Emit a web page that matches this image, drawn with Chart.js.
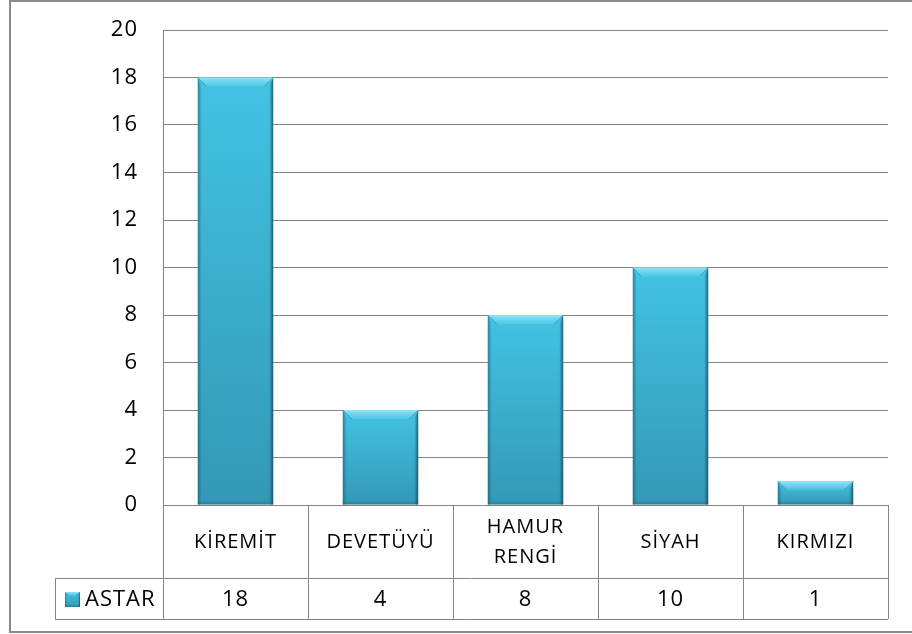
<!DOCTYPE html>
<html><head><meta charset="utf-8">
<script src="https://cdn.jsdelivr.net/npm/chart.js@4"></script>
<style>html,body{margin:0;padding:0;background:#fff;overflow:hidden}canvas{display:block}</style>
</head><body>
<canvas id="c" width="912" height="634"></canvas>
<script>
// ---- data ----
const categories = [['KİREMİT'], ['DEVETÜYÜ'], ['HAMUR', 'RENGİ'], ['SİYAH'], ['KIRMIZI']];
const seriesName = 'ASTAR';
const astarValues = [18, 4, 8, 10, 1];
const yMin = 0, yMax = 20, yStep = 2;

// ---- styling ----
const FONT = "'Open Sans', 'Noto Sans', sans-serif";
const LINE = '#858585';
const CAT_ROW_H = 73, DATA_ROW_H = 41, KEY_LEFT = 55;

function barGradient(ctx, top, bottom) {
  const g = ctx.createLinearGradient(0, top, 0, bottom);
  g.addColorStop(0, '#43c3e4');
  g.addColorStop(1, '#3398b5');
  return g;
}

function drawBevel(ctx, l, t, r, b) {
  const h = b - t, w = r - l;
  const bv = Math.min(9, h / 2.5, w / 4);
  const side = Math.min(4, w / 8);
  ctx.save();
  let g = ctx.createLinearGradient(l, 0, l + side, 0);
  g.addColorStop(0, 'rgba(20,80,100,0.55)');
  g.addColorStop(1, 'rgba(20,80,100,0)');
  ctx.fillStyle = g;
  ctx.beginPath(); ctx.moveTo(l, t); ctx.lineTo(l + side, t + bv); ctx.lineTo(l + side, b); ctx.lineTo(l, b); ctx.closePath(); ctx.fill();
  g = ctx.createLinearGradient(r, 0, r - side, 0);
  g.addColorStop(0, 'rgba(15,60,80,0.7)');
  g.addColorStop(1, 'rgba(15,60,80,0)');
  ctx.fillStyle = g;
  ctx.beginPath(); ctx.moveTo(r, t); ctx.lineTo(r - side, t + bv); ctx.lineTo(r - side, b); ctx.lineTo(r, b); ctx.closePath(); ctx.fill();
  g = ctx.createLinearGradient(0, t, 0, t + bv);
  g.addColorStop(0, 'rgba(160,235,250,0.85)');
  g.addColorStop(1, 'rgba(120,220,245,0.25)');
  ctx.fillStyle = g;
  ctx.beginPath(); ctx.moveTo(l, t); ctx.lineTo(r, t); ctx.lineTo(r - bv, t + bv); ctx.lineTo(l + bv, t + bv); ctx.closePath(); ctx.fill();
  ctx.strokeStyle = 'rgba(40,120,145,0.45)';
  ctx.lineWidth = 1;
  ctx.beginPath(); ctx.moveTo(l, t); ctx.lineTo(l + bv, t + bv); ctx.moveTo(r, t); ctx.lineTo(r - bv, t + bv); ctx.stroke();
  const bb = Math.min(4, h / 6);
  g = ctx.createLinearGradient(0, b - bb, 0, b);
  g.addColorStop(0, 'rgba(20,80,100,0)');
  g.addColorStop(1, 'rgba(20,80,100,0.35)');
  ctx.fillStyle = g;
  ctx.fillRect(l, b - bb, w, bb);
  ctx.restore();
}

const tablePlugin = {
  id: 'tablePlugin',
  beforeDraw(chart) {
    chart.ctx.letterSpacing = '1px';
  },
  afterDatasetsDraw(chart) {
    const ctx = chart.ctx;
    const meta = chart.getDatasetMeta(0);
    meta.data.forEach(bar => {
      const p = bar.getProps(['x', 'y', 'base', 'width'], true);
      drawBevel(ctx, p.x - p.width / 2, p.y, p.x + p.width / 2, p.base);
    });
  },
  afterDraw(chart) {
    const ctx = chart.ctx;
    const xs = chart.scales.x;
    const a = chart.chartArea;
    const n = categories.length;
    const catW = (a.right - a.left) / n;
    const y0 = a.bottom, y1 = y0 + CAT_ROW_H, y2 = y1 + DATA_ROW_H;
    ctx.save();
    ctx.strokeStyle = LINE;
    ctx.lineWidth = 1;
    ctx.beginPath();
    for (let i = 0; i <= n; i++) {
      const x = Math.round(xs.getPixelForValue(0) - catW / 2 + i * catW) + 0.5;
      ctx.moveTo(x, y0); ctx.lineTo(x, y2);
    }
    ctx.moveTo(KEY_LEFT, y1 + 0.5); ctx.lineTo(a.right, y1 + 0.5);
    ctx.moveTo(KEY_LEFT, y2 + 0.5); ctx.lineTo(a.right, y2 + 0.5);
    ctx.moveTo(KEY_LEFT + 0.5, y1); ctx.lineTo(KEY_LEFT + 0.5, y2);
    ctx.stroke();

    ctx.fillStyle = '#000';
    ctx.textAlign = 'center';
    ctx.textBaseline = 'middle';
    ctx.font = '20px ' + FONT;
    const cy = (y0 + y1) / 2 + 1;
    categories.forEach((lines, i) => {
      const x = xs.getPixelForValue(i);
      lines.forEach((t, j) => {
        ctx.fillText(t, x, cy + (j - (lines.length - 1) / 2) * 30);
      });
    });
    ctx.font = '22px ' + FONT;
    const dy = (y1 + y2) / 2 + 1;
    astarValues.forEach((v, i) => {
      ctx.fillText(String(v), xs.getPixelForValue(i), dy);
    });
    const kx = 65, ky = Math.round(dy - 7.5), ks = 15;
    ctx.fillStyle = barGradient(ctx, ky, ky + ks);
    ctx.fillRect(kx, ky, ks, ks);
    drawBevel(ctx, kx, ky, kx + ks, ky + ks);
    ctx.fillStyle = '#000';
    ctx.textAlign = 'left';
    ctx.fillText(seriesName, 85, dy);

    ctx.strokeStyle = '#8a8a8a';
    ctx.lineWidth = 2;
    ctx.strokeRect(10, 1, 1000, 631);
    ctx.restore();
  }
};

new Chart(document.getElementById('c'), {
  type: 'bar',
  data: {
    labels: categories,
    datasets: [{
      label: seriesName,
      data: astarValues,
      categoryPercentage: 1,
      barPercentage: 0.52,
      borderWidth: 0,
      backgroundColor(c) {
        const ch = c.chart;
        if (!ch.chartArea || c.type !== 'data') return '#3cb9dc';
        const ys = ch.scales.y;
        return barGradient(ch.ctx, ys.getPixelForValue(c.raw), ys.getPixelForValue(0));
      }
    }]
  },
  options: {
    responsive: false,
    animation: false,
    devicePixelRatio: 1,
    layout: { padding: { top: 30, right: 24, bottom: 15, left: 0 } },
    plugins: { legend: { display: false }, tooltip: { enabled: false } },
    scales: {
      x: {
        grid: { display: false, drawTicks: false },
        border: { display: false },
        ticks: { display: false },
        afterFit(s) { s.height = CAT_ROW_H + DATA_ROW_H; s.paddingLeft = 0; s.paddingRight = 0; }
      },
      y: {
        min: yMin, max: yMax,
        ticks: { stepSize: yStep, color: '#000', padding: 25, font: { family: FONT, size: 22 } },
        grid: { color: LINE, drawTicks: false, lineWidth: 1 },
        border: { display: true, color: LINE },
        afterFit(s) { s.width = 163; s.paddingTop = 0; s.paddingBottom = 0; }
      }
    }
  },
  plugins: [tablePlugin]
});
</script>
</body></html>
